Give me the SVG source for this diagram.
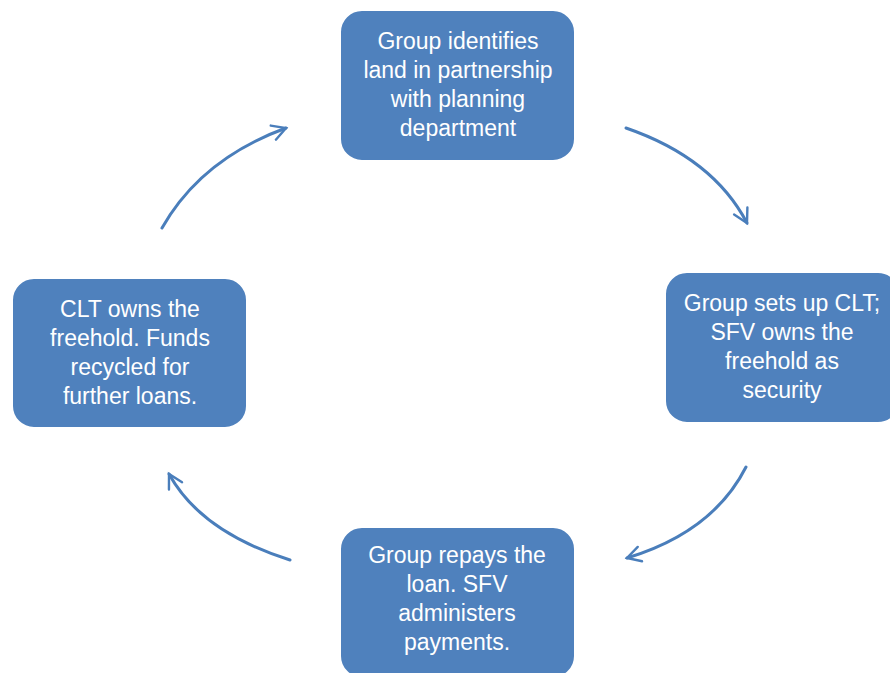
<svg xmlns="http://www.w3.org/2000/svg" width="890" height="673" viewBox="0 0 890 673">
<defs>
<style>
.box{fill:#4F81BD;stroke:#ffffff;stroke-width:2}
.t{font-family:"Liberation Sans",Arial,sans-serif;font-size:23px;fill:#ffffff;text-anchor:middle}
.arc{fill:none;stroke:#4A7EBB;stroke-width:3;stroke-linecap:round;marker-end:url(#ah)}
</style>
<marker id="ah" viewBox="0 0 12 12" refX="10" refY="6" markerWidth="6" markerHeight="6" orient="auto" markerUnits="strokeWidth">
<path d="M1,1 L10,6 L1,11" fill="none" stroke="#4A7EBB" stroke-width="1.6" stroke-linecap="round" stroke-linejoin="miter"/>
</marker>
</defs>
<rect width="890" height="673" fill="#ffffff"/>
<g id="connectors">
<path class="arc" d="M626,128 Q713,158 747,223"/>
<path class="arc" d="M746,467 Q713,532 627,558"/>
<path class="arc" d="M290,560 Q201,532 169,474"/>
<path class="arc" d="M162,228 Q201,159 286,128"/>
</g>
<g id="n1">
<rect class="box" x="340" y="10" width="235" height="151" rx="22"/>
<text class="t" x="458" y="49">Group identifies</text>
<text class="t" x="458" y="78">land in partnership</text>
<text class="t" x="458" y="107">with planning</text>
<text class="t" x="458" y="136">department</text>
</g>
<g id="n2">
<rect class="box" x="665" y="272" width="235" height="151" rx="22"/>
<text class="t" x="782" y="311">Group sets up CLT;</text>
<text class="t" x="782" y="340">SFV owns the</text>
<text class="t" x="782" y="369">freehold as</text>
<text class="t" x="782" y="398">security</text>
</g>
<g id="n3">
<rect class="box" x="340" y="527" width="235" height="151" rx="22"/>
<text class="t" x="457" y="563">Group repays the</text>
<text class="t" x="457" y="592">loan. SFV</text>
<text class="t" x="457" y="621">administers</text>
<text class="t" x="457" y="650">payments.</text>
</g>
<g id="n4">
<rect class="box" x="12" y="278" width="235" height="150" rx="22"/>
<text class="t" x="130" y="317">CLT owns the</text>
<text class="t" x="130" y="346">freehold. Funds</text>
<text class="t" x="130" y="375">recycled for</text>
<text class="t" x="130" y="404">further loans.</text>
</g>
</svg>
